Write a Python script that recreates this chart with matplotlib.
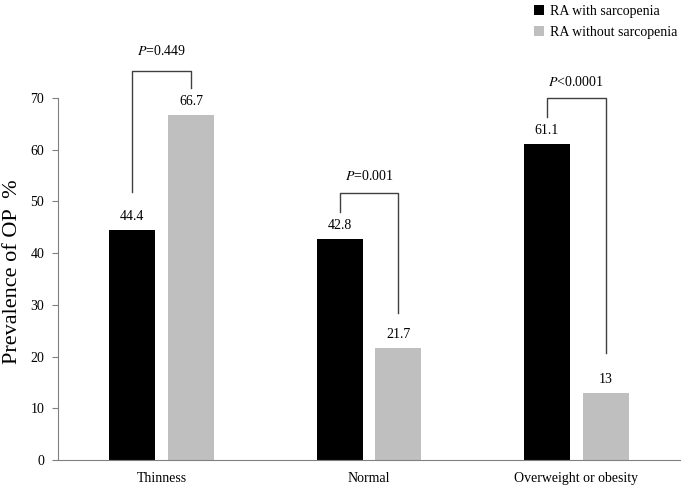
import matplotlib
matplotlib.use("Agg")
import matplotlib.pyplot as plt
import numpy as np

plt.rcParams['font.family'] = ['Liberation Serif', 'DejaVu Serif']

# data
categories = ["Thinness", "Normal", "Overweight or obesity"]
with_sarc = [44.4, 42.8, 61.1]
without_sarc = [66.7, 21.7, 13.0]
with_labels = ["44.4", "42.8", "61.1"]
without_labels = ["66.7", "21.7", "13"]
p_texts = ["=0.449", "=0.001", "<0.0001"]
# bracket: top, left end, right end, P text height
bracket_top = [75.2, 51.6, 70.0]
bracket_left = [51.9, 48.0, 66.3]
bracket_right = [71.9, 28.4, 20.7]
p_y = [79.0, 54.9, 73.1]

fig = plt.figure(figsize=(6.85, 4.88), dpi=100)
ax = fig.add_axes([0.0847, 0.0574, 0.908, 0.7418])

x = np.arange(len(categories))
w = 0.222
off = 0.142
ax.bar(x - off, with_sarc, w, color='black', label='RA with sarcopenia')
ax.bar(x + off, without_sarc, w, color='#BFBFBF', label='RA without sarcopenia')

for i in range(len(categories)):
    ax.text(x[i] - off, with_sarc[i] + 2.6, with_labels[i], ha='center', va='center', fontsize=10)
    ax.text(x[i] + off, without_sarc[i] + 2.6, without_labels[i], ha='center', va='center', fontsize=10)
    xl, xr = x[i] - off, x[i] + off
    ax.plot([xl, xl, xr, xr], [bracket_left[i], bracket_top[i], bracket_top[i], bracket_right[i]],
            color='#404040', lw=1.0, clip_on=False)
    ax.text(x[i], p_y[i], r'$\it{P}$' + p_texts[i], ha='center', va='center', fontsize=10,
            math_fontfamily='stix')

ax.set_xlim(-0.5, 2.5)
ax.set_ylim(0, 70)
ax.set_yticks(range(0, 71, 10))
ax.set_xticks(x)
ax.set_xticklabels(categories, fontsize=10)
ax.tick_params(axis='x', length=0, pad=9)
ax.tick_params(axis='y', length=4, color='#808080', labelsize=10, pad=6)
for s in ['top', 'right']:
    ax.spines[s].set_visible(False)
for s in ['left', 'bottom']:
    ax.spines[s].set_color('#808080')
ax.set_ylabel("Prevalence of OP  %", fontsize=16)
ax.yaxis.set_label_coords(-0.058, 0.52)

fig.legend(loc='upper left', bbox_to_anchor=(0.762, 1.015), frameon=False, fontsize=10,
           handlelength=0.7, handleheight=0.7, handletextpad=0.45, labelspacing=0.55)

plt.savefig("out.png", dpi=100)
